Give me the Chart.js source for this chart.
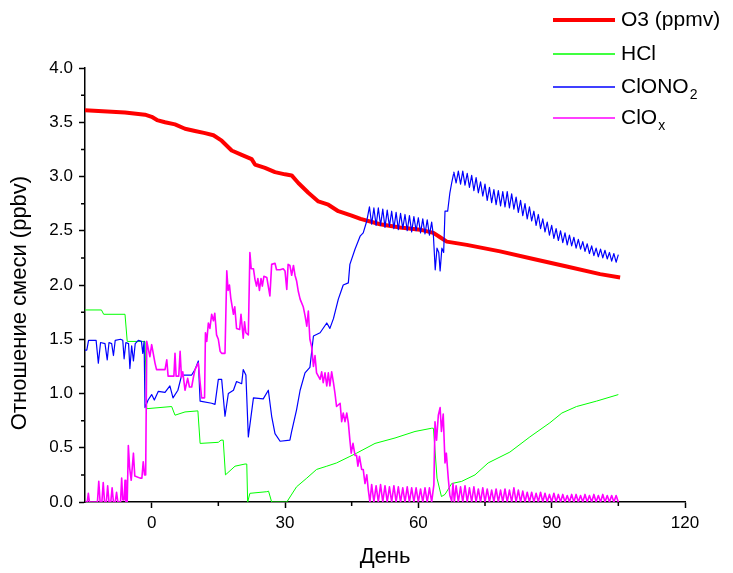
<!DOCTYPE html>
<html>
<head>
<meta charset="utf-8">
<script src="https://cdn.jsdelivr.net/npm/chart.js@4"></script>
<style>
  html, body { margin: 0; padding: 0; background: #fff; }
</style>
</head>
<body>
<canvas id="chart" width="733" height="573"></canvas>
<script>
/* ================= DATA ================= */
const xTicks = [0, 30, 60, 90, 120];
const xMinorTicks = [15, 45, 75, 105];
const yTicks = [0, 0.5, 1, 1.5, 2, 2.5, 3, 3.5, 4];
const yMinorTicks = [0.25, 0.75, 1.25, 1.75, 2.25, 2.75, 3.25, 3.75];

const seriesNames = ["O3 (ppmv)", "HCl", "ClONO2", "ClOx"];
const xTitle = "День";
const yTitle = "Отношение смеси (ppbv)";

// O3
const o3Days = [-15, -10, -6, -1.5, 0, 1.2, 3, 5.25, 7.5, 9.75,
  12, 13.9, 15.75, 18, 20.25, 22.5, 23.25, 25.5, 27.75, 30,
  31.5, 33, 35.25, 37.5, 39.75, 42, 45, 47, 51.4, 55.9,
  60.4, 63.4, 64.9, 66.4, 70.9, 78.4, 85.9, 93.4, 100.9, 105.4];
const o3Values = [3.61, 3.60, 3.59, 3.57, 3.55, 3.52, 3.50, 3.48, 3.44, 3.42,
  3.40, 3.38, 3.33, 3.24, 3.20, 3.16, 3.11, 3.08, 3.04, 3.02,
  3.01, 2.94, 2.85, 2.77, 2.74, 2.68, 2.64, 2.61, 2.56, 2.53,
  2.51, 2.48, 2.44, 2.40, 2.37, 2.31, 2.24, 2.17, 2.10, 2.07];

// HCl
const hclDays = [-15, -11.3, -10.8, -6, -5.5, -1.5, -1.1, 4.5, 5.25, 7.5,
  10.4, 10.9, 15, 15.6, 16.1, 16.6, 18.75, 21, 21.4, 21.6,
  22.1, 25.9, 26.3, 27, 30.4, 32.6, 34.9, 37.1, 39.4, 41.6,
  44.6, 46.1, 50.25, 54.75, 59.25, 63, 63.4, 64.2, 65.2, 66,
  67.5, 69.75, 72.75, 75.7, 80.6, 85.1, 89.6, 92.3, 95.6, 100.1,
  105];
const hclValues = [1.77, 1.77, 1.73, 1.73, 1.48, 1.48, 0.86, 0.88, 0.80, 0.83,
  0.84, 0.54, 0.55, 0.57, 0.57, 0.25, 0.33, 0.35, 0.35, 0.0,
  0.08, 0.095, 0.10, 0.0, 0.0, 0.14, 0.22, 0.30, 0.33, 0.36,
  0.42, 0.45, 0.54, 0.59, 0.65, 0.68, 0.68, 0.22, 0.05, 0.07,
  0.17, 0.19, 0.25, 0.36, 0.46, 0.60, 0.73, 0.82, 0.88, 0.93,
  0.99];

// ClONO2: irregular part
const clono2Days = [-15, -14.6, -14.2, -12.5, -12, -11.5, -10.5, -10, -9.6, -9,
  -8.6, -8.2, -7, -6.5, -6.2, -5.8, -5.2, -4.9, -4.5, -4.1,
  -3.7, -3, -2.3, -2, -1.7, -1.5, -0.8, 0, 0.6, 1.5,
  3, 4.1, 4.8, 5.9, 6.75, 9, 9.75, 10.5, 10.9, 13.5,
  14.25, 15, 15.75, 16.5, 17.25, 18.4, 19.1, 20.25, 20.6, 21.2,
  21.75, 22.9, 25.1, 26.25, 27, 27.75, 28.9, 31.1, 31.5, 32.6,
  33.4, 34.5, 35.6, 36.4, 37.9, 39.4, 40.1, 40.9, 42, 43.1,
  44.25, 44.6, 45.75, 46.9, 47.6, 48.4,
  63.4, 63.8, 64.2, 64.6, 64.9, 65.3, 65.7, 66, 66.6, 67.1,
  67.5, 67.9];
const clono2Values = [1.40, 1.40, 1.49, 1.49, 1.28, 1.47, 1.46, 1.31, 1.47, 1.46,
  1.35, 1.49, 1.50, 1.49, 1.32, 1.47, 1.46, 1.23, 1.44, 1.30,
  1.46, 1.49, 1.48, 1.37, 1.48, 0.87, 0.94, 0.99, 0.94, 1.02,
  1.01, 1.07, 0.96, 1.03, 1.17, 1.17, 1.22, 1.30, 0.93, 0.91,
  0.90, 1.13, 1.13, 0.79, 1.00, 1.03, 1.11, 1.09, 1.22, 1.17,
  0.60, 0.96, 0.95, 1.03, 0.79, 0.63, 0.56, 0.57, 0.65, 0.85,
  1.03, 1.19, 1.24, 1.53, 1.56, 1.65, 1.60, 1.69, 1.87, 2.00,
  2.02, 2.19, 2.33, 2.45, 2.48, 2.59,
  2.45, 2.14, 2.34, 2.30, 2.13, 2.34, 2.30, 2.68, 2.68, 2.85,
  2.94, 3.02];
// ClONO2: diurnal cycles, one value every half day
const clono2CycleAStart = 49;
const clono2CycleA = [2.72, 2.56, 2.71, 2.55, 2.71, 2.55, 2.70, 2.53, 2.69, 2.54,
  2.68, 2.52, 2.67, 2.51, 2.66, 2.52, 2.65, 2.50, 2.64, 2.49,
  2.63, 2.50, 2.62, 2.48, 2.61, 2.47, 2.60, 2.46, 2.58];
const clono2CycleBStart = 68;
const clono2CycleB = [3.04, 2.94, 3.05, 2.93, 3.05, 2.92, 3.03, 2.90, 3.01, 2.87,
  2.99, 2.85, 2.95, 2.82, 2.93, 2.78, 2.90, 2.76, 2.88, 2.74,
  2.87, 2.73, 2.86, 2.72, 2.86, 2.71, 2.84, 2.70, 2.81, 2.67,
  2.78, 2.64, 2.75, 2.61, 2.72, 2.59, 2.68, 2.55, 2.65, 2.52,
  2.61, 2.49, 2.58, 2.46, 2.55, 2.43, 2.52, 2.41, 2.50, 2.39,
  2.48, 2.37, 2.46, 2.36, 2.44, 2.34, 2.42, 2.33, 2.40, 2.31,
  2.38, 2.29, 2.36, 2.27, 2.34, 2.26, 2.33, 2.25, 2.32, 2.24,
  2.30, 2.22, 2.29, 2.21, 2.28];

// ClOx: irregular part
const cloxDays = [-15, -14.5, -14.25, -14, -12.2, -11.9, -11.6, -11.2, -10.9, -10.6,
  -10.2, -9.9, -9.6, -9.2, -8.9, -8.6, -8.2, -7.9, -7.6, -7,
  -6.75, -6.5, -6.2, -6, -5.8, -5.5, -5.25, -4.95, -4.6, -4.1,
  -3.8, -2.6, -2.2, -1.9, -1.6, -1.35, -1.1, -0.4, 0, 0.75,
  1.1, 3, 3.4, 3.7, 5, 5.25, 5.5, 6.1, 6.4, 6.7,
  7, 7.5, 8.1, 8.5, 9, 9.4, 9.75, 10.5, 10.9, 11.25,
  11.9, 12.1, 12.4, 12.75, 13.1, 13.5, 13.9, 14.2, 14.6, 15,
  15.4, 15.75, 16.5, 16.9, 17.2, 17.5, 17.8, 18.4, 18.7, 19.1,
  19.8, 20.1, 20.6, 20.9, 21.2, 21.75, 22.1, 22.4, 22.9, 23.25,
  23.6, 23.9, 24.25, 24.6, 24.9, 25.25, 25.9, 26.6, 27, 27.75,
  28.1, 28.9, 29.6, 30, 30.4, 30.7, 31.1, 31.5, 31.9, 32.25,
  32.6, 33, 33.4, 34.1, 34.5, 34.9, 35.25, 35.6, 36, 36.4,
  36.75, 37.1, 37.9, 38.25, 38.6, 39, 39.4, 39.75, 40.1, 40.5,
  40.9, 41.25, 41.6, 42.4, 42.75, 43.1, 43.5, 43.9, 44.25, 44.6,
  44.9, 45.3, 45.75, 46.1, 46.4, 46.75, 47.25, 47.6, 48, 48.4,
  48.75, 49.1, 63.5, 63.75, 64.1, 64.5, 64.9, 65.2, 65.6, 66,
  66.3, 66.75, 67.1, 67.5, 67.8, 68.1];
const cloxValues = [0, 0, 0.08, 0, 0, 0.19, 0, 0, 0.18, 0,
  0, 0.15, 0, 0, 0.13, 0, 0, 0.09, 0, 0,
  0.22, 0.02, 0.02, 0.20, 0, 0, 0.52, 0.31, 0.20, 0.45,
  0.24, 0.22, 0.22, 0.37, 0.25, 0.25, 1.48, 1.34, 1.45, 1.28,
  1.22, 1.22, 1.31, 1.16, 1.16, 1.37, 1.16, 1.16, 1.39, 1.15,
  1.20, 1.03, 1.14, 1.06, 1.06, 1.15, 1.22, 1.28, 1.10, 0.96,
  0.96, 1.56, 1.48, 1.65, 1.60, 1.73, 1.67, 1.74, 1.54, 1.50,
  1.39, 1.37, 1.37, 2.13, 1.95, 2.00, 1.88, 1.73, 1.80, 1.60,
  1.59, 1.73, 1.51, 1.66, 1.56, 1.54, 2.30, 2.15, 2.15, 2.05,
  1.99, 2.06, 1.95, 2.06, 1.99, 2.08, 2.07, 1.90, 2.19, 2.20,
  2.14, 2.14, 2.15, 2.13, 1.96, 2.19, 2.18, 2.09, 2.18, 2.09,
  2.04, 1.94, 1.87, 1.80, 1.72, 1.62, 1.76, 1.50, 1.43, 1.25,
  1.35, 1.19, 1.13, 1.20, 1.10, 1.19, 1.07, 1.19, 1.07, 1.20,
  1.10, 1.00, 0.88, 0.91, 0.74, 0.82, 0.74, 0.82, 0.73, 0.57,
  0.45, 0.54, 0.43, 0.43, 0.33, 0.42, 0.30, 0.30, 0.17, 0.25,
  0.11, 0, 0.16, 0.74, 0.57, 0.80, 0.87, 0.65, 0.81, 0.36,
  0.45, 0.21, 0.06, 0.01, 0.17, 0];
// ClOx: diurnal cycles, one value every half day
const cloxCycleAStart = 49.5;
const cloxCycleA = [0.16, 0, 0.15, 0, 0.16, 0, 0.15, 0, 0.14, 0,
  0.15, 0, 0.14, 0, 0.13, 0, 0.14, 0, 0.13, 0,
  0.13, 0, 0.12, 0, 0.13, 0, 0.13, 0];
const cloxCycleBStart = 68.5;
const cloxCycleB = [0.15, 0, 0.14, 0, 0.15, 0, 0.13, 0, 0.14, 0,
  0.12, 0, 0.13, 0, 0.12, 0, 0.11, 0, 0.12, 0,
  0.11, 0, 0.12, 0, 0.11, 0, 0.13, 0, 0.11, 0,
  0.10, 0, 0.09, 0, 0.09, 0, 0.08, 0, 0.09, 0,
  0.08, 0, 0.07, 0, 0.08, 0, 0.07, 0, 0.07, 0,
  0.06, 0, 0.07, 0, 0.07, 0, 0.06, 0, 0.07, 0,
  0.06, 0, 0.07, 0, 0.06, 0, 0.07, 0, 0.06, 0,
  0.06, 0, 0.06, 0];

/* ================= HELPERS ================= */
function points(days, values) {
  return days.map((d, i) => ({ x: d, y: values[i] }));
}
function cycle(start, values) {
  return values.map((v, i) => ({ x: start + i * 0.5, y: v }));
}
function merged(...parts) {
  return [].concat(...parts).sort((a, b) => a.x - b.x);
}

const FONT = '"Liberation Sans", Arial, sans-serif';

/* ================= PLUGINS ================= */
// legend at the top right, with subscripts
const legendRows = [20, 54, 87, 118];
const legendSubs = [null, null, ["ClONO", "2"], ["ClO", "x"]];
const sideLegend = {
  id: "sideLegend",
  afterDraw(chart) {
    const ctx = chart.ctx;
    chart.data.datasets.forEach((ds, i) => {
      const y = legendRows[i];
      ctx.save();
      ctx.strokeStyle = ds.borderColor;
      ctx.lineWidth = Math.max(ds.borderWidth, 1.5);
      ctx.beginPath();
      ctx.moveTo(553, y);
      ctx.lineTo(615, y);
      ctx.stroke();
      ctx.fillStyle = "#000";
      ctx.textBaseline = "middle";
      ctx.font = "21px " + FONT;
      const sub = legendSubs[i];
      if (sub) {
        ctx.fillText(sub[0], 621, y);
        const w = ctx.measureText(sub[0]).width;
        ctx.font = "14px " + FONT;
        ctx.fillText(sub[1], 621 + w + 1, y + 8);
      } else {
        ctx.fillText(ds.label, 621, y);
      }
      ctx.restore();
    });
  }
};

// short minor ticks between the labelled ones, and the y title
const axisExtras = {
  id: "axisExtras",
  afterDraw(chart) {
    const ctx = chart.ctx;
    const xs = chart.scales.x, ys = chart.scales.y;
    ctx.save();
    ctx.strokeStyle = "#000";
    ctx.lineWidth = 1.5;
    ctx.beginPath();
    xMinorTicks.forEach(v => {
      const px = xs.getPixelForValue(v);
      ctx.moveTo(px, xs.top);
      ctx.lineTo(px, xs.top + 4);
    });
    yMinorTicks.forEach(v => {
      const py = ys.getPixelForValue(v);
      ctx.moveTo(ys.right, py);
      ctx.lineTo(ys.right - 4, py);
    });
    ctx.stroke();

    ctx.translate(20, 303);
    ctx.rotate(-Math.PI / 2);
    ctx.fillStyle = "#000";
    ctx.font = "22px " + FONT;
    ctx.textAlign = "center";
    ctx.textBaseline = "middle";
    ctx.fillText(yTitle, 0, 0);
    ctx.restore();
  }
};

/* ================= CHART ================= */
new Chart(document.getElementById("chart"), {
  type: "line",
  data: {
    datasets: [{
      label: seriesNames[0],
      data: points(o3Days, o3Values),
      borderColor: "#ff0000",
      borderWidth: 4,
      order: 4
    }, {
      label: seriesNames[1],
      data: points(hclDays, hclValues),
      borderColor: "#00ff00",
      borderWidth: 1,
      order: 3
    }, {
      label: seriesNames[2],
      data: merged(points(clono2Days, clono2Values),
        cycle(clono2CycleAStart, clono2CycleA),
        cycle(clono2CycleBStart, clono2CycleB)),
      borderColor: "#0000ff",
      borderWidth: 1.2,
      order: 2
    }, {
      label: seriesNames[3],
      data: merged(points(cloxDays, cloxValues),
        cycle(cloxCycleAStart, cloxCycleA),
        cycle(cloxCycleBStart, cloxCycleB)),
      borderColor: "#ff00ff",
      borderWidth: 1.6,
      order: 1
    }]
  },
  options: {
    responsive: false,
    animation: false,
    devicePixelRatio: 1,
    elements: { point: { radius: 0 }, line: { tension: 0, borderJoinStyle: "round" } },
    layout: { padding: { top: 68, right: 48, left: 0, bottom: 0 } },
    plugins: { legend: { display: false }, tooltip: { enabled: false } },
    scales: {
      x: {
        type: "linear",
        min: -15,
        max: 120,
        afterBuildTicks: s => { s.ticks = xTicks.map(v => ({ value: v })); },
        afterFit: s => { s.height = 71; },
        ticks: { color: "#000", font: { size: 17, family: FONT }, padding: 5, maxRotation: 0, autoSkip: false },
        grid: { drawOnChartArea: false, drawTicks: true, tickLength: 6, tickColor: "#000", tickWidth: 1.5 },
        border: { display: true, color: "#000", width: 1.5 },
        title: { display: true, text: xTitle, color: "#000", font: { size: 22, family: FONT }, padding: { top: 4, bottom: 3 } }
      },
      y: {
        type: "linear",
        min: 0,
        max: 4,
        afterBuildTicks: s => { s.ticks = yTicks.map(v => ({ value: v })); },
        afterFit: s => { s.width = 85; },
        ticks: { color: "#000", font: { size: 17, family: FONT }, padding: 6, callback: v => Number(v).toFixed(1) },
        grid: { drawOnChartArea: false, drawTicks: true, tickLength: 6, tickColor: "#000", tickWidth: 1.5 },
        border: { display: true, color: "#000", width: 1.5 }
      }
    }
  },
  plugins: [sideLegend, axisExtras]
});
</script>
</body>
</html>
